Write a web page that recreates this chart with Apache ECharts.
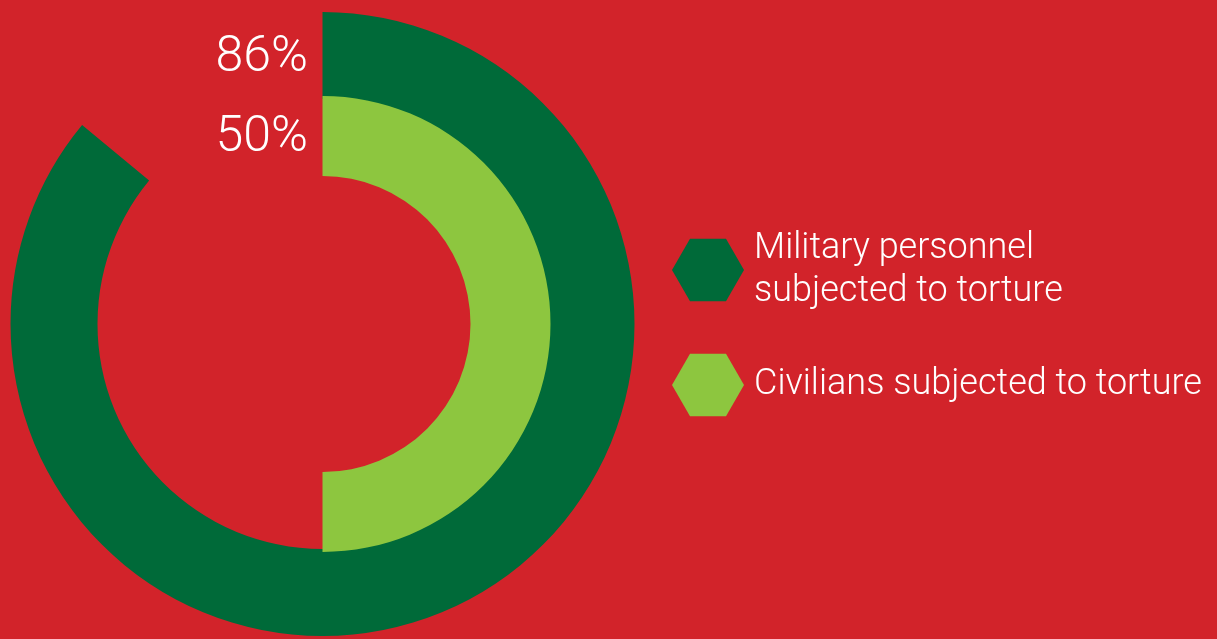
<!DOCTYPE html>
<html>
<head>
<meta charset="utf-8">
<script src="https://cdn.jsdelivr.net/npm/echarts@6/dist/echarts.min.js"></script>
<style>
html,body{margin:0;padding:0;background:#D2232A;}
#chart{width:1217px;height:639px;}
</style>
</head>
<body>
<div id="chart"></div>
<script>
const categories = ['Military personnel subjected to torture', 'Civilians subjected to torture'];
const legendLabels = ['Military personnel\nsubjected to torture', 'Civilians subjected to torture'];
const percentValues = [86, 50];
const colors = ['#006A39', '#8DC63F'];

const FONT = 'Roboto';
const WEIGHT = 300;
const hexPath = 'path://M0,31.2 L18,0 L54,0 L72,31.2 L54,62.4 L18,62.4 Z';

function ring(i, radius) {
  return {
    type: 'pie',
    silent: true,
    center: [322.5, 324],
    radius: radius,
    startAngle: 90,
    clockwise: true,
    label: { show: false },
    labelLine: { show: false },
    itemStyle: { borderWidth: 0 },
    data: [
      { name: categories[i], value: percentValues[i], itemStyle: { color: colors[i] } },
      { name: 'rest' + i, value: 100 - percentValues[i], itemStyle: { color: 'rgba(0,0,0,0)' } }
    ]
  };
}

function legendFor(i, top) {
  return {
    orient: 'vertical',
    left: 672,
    top: top,
    padding: 0,
    itemWidth: 72,
    itemHeight: 62.4,
    selectedMode: false,
    icon: hexPath,
    data: [categories[i]],
    formatter: function () { return legendLabels[i]; },
    textStyle: { color: '#ffffff', fontFamily: FONT, fontWeight: WEIGHT, fontSize: 36, lineHeight: 43, padding: [0, 0, 0, 5] }
  };
}

const chart = echarts.init(document.getElementById('chart'), null, { renderer: 'canvas' });
chart.setOption({
  animation: false,
  backgroundColor: '#D2232A',
  title: [
    { text: percentValues[0] + '%', right: 909, top: 33, padding: 0,
      textStyle: { color: '#ffffff', fontFamily: FONT, fontSize: 50, fontWeight: WEIGHT } },
    { text: percentValues[1] + '%', right: 909, top: 113, padding: 0,
      textStyle: { color: '#ffffff', fontFamily: FONT, fontSize: 50, fontWeight: WEIGHT } }
  ],
  legend: [legendFor(0, 227), legendFor(1, 353.8)],
  series: [ring(0, [225, 312]), ring(1, [148, 228])]
});
</script>
</body>
</html>
